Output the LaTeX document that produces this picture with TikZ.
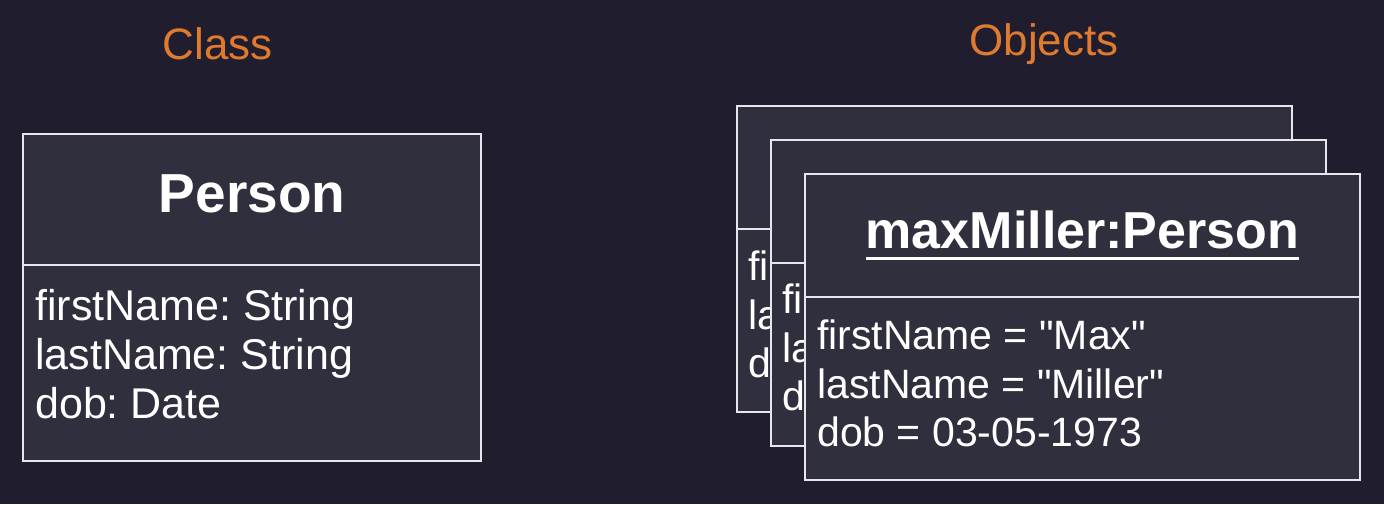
\documentclass[tikz,border=0pt]{standalone}
\usepackage{fontspec}
\setmainfont{Liberation Sans}
\usetikzlibrary{positioning}
\definecolor{canvas}{HTML}{201E2E}
\definecolor{boxfill}{HTML}{302F3E}
\definecolor{boxline}{HTML}{E6E6EC}
\definecolor{heading}{HTML}{E07A2E}
\newcommand\objname[1]{\setbox0\hbox{#1}\rlap{\vrule width\wd0 height -8pt depth 11pt}\box0}
\newcommand\qt[1]{\textquotedbl#1\textquotedbl}
\frenchspacing

\tikzset{
  umlhead/.style={draw=boxline,fill=boxfill,line width=2.5pt,inner sep=0pt,outer sep=0pt,text=white,font=\fontsize{52}{60}\selectfont\bfseries,text height=37pt,text depth=11pt},
  umlbody/.style={draw=boxline,fill=boxfill,line width=2.5pt,inner sep=0pt,outer sep=0pt},
  umlattr/.style={anchor=north west,inner sep=0pt,align=left,text=white,font=\fontsize{43}{49}\selectfont},
  objattr/.style={umlattr,font=\fontsize{41}{48.5}\selectfont},
  caption/.style={text=heading,font=\fontsize{44}{50}\selectfont}
}

\begin{document}
\begin{tikzpicture}[x=1pt,y=-1pt]
\fill[canvas] (0,0) rectangle (1384,504);
\useasboundingbox (0,0) rectangle (1384,504);

% Captions
\node(classCaption)[caption] at (218,44) {Class};
\node(objCaption)[caption] at (1044,44) {Objects};

% Class box
\node(clsHead)[umlhead,minimum width=458pt,minimum height=131pt,font=\fontsize{55}{60}\selectfont\bfseries] at (252,199.5) {Person};
\node(clsBody)[umlbody,below=0pt of clsHead,minimum width=458pt,minimum height=196pt] {};
\node(clsAttr)[umlattr] at ([xshift=12pt,yshift=-24pt]clsBody.north west) {firstName: String\\lastName: String\\dob: Date};

% Object boxes, back to front
\node(objHeadA)[umlhead,minimum width=555pt,minimum height=123pt] at (1014.5,167.5) {};
\node(objBodyA)[umlbody,below=0pt of objHeadA,minimum width=555pt,minimum height=183pt] {};
\node(objAttrA)[objattr] at ([xshift=11pt,yshift=-22pt]objBodyA.north west) {fi\\la\\d};

\node(objHeadB)[umlhead,minimum width=555pt,minimum height=123pt] at (1048.5,201.5) {};
\node(objBodyB)[umlbody,below=0pt of objHeadB,minimum width=555pt,minimum height=183pt] {};
\node(objAttrB)[objattr] at ([xshift=11pt,yshift=-21pt]objBodyB.north west) {fi\\la\\d};

\node(objHead)[umlhead,minimum width=555pt,minimum height=123pt] at (1082.5,235.5) {\objname{maxMiller:Person}};
\node(objBody)[umlbody,below=0pt of objHead,minimum width=555pt,minimum height=183pt] {};
\node(objAttr)[objattr] at ([xshift=12pt,yshift=-23pt]objBody.north west) {firstName = \qt{Max}\\lastName = \qt{Miller}\\dob = 03-05-1973};
\end{tikzpicture}
\end{document}
